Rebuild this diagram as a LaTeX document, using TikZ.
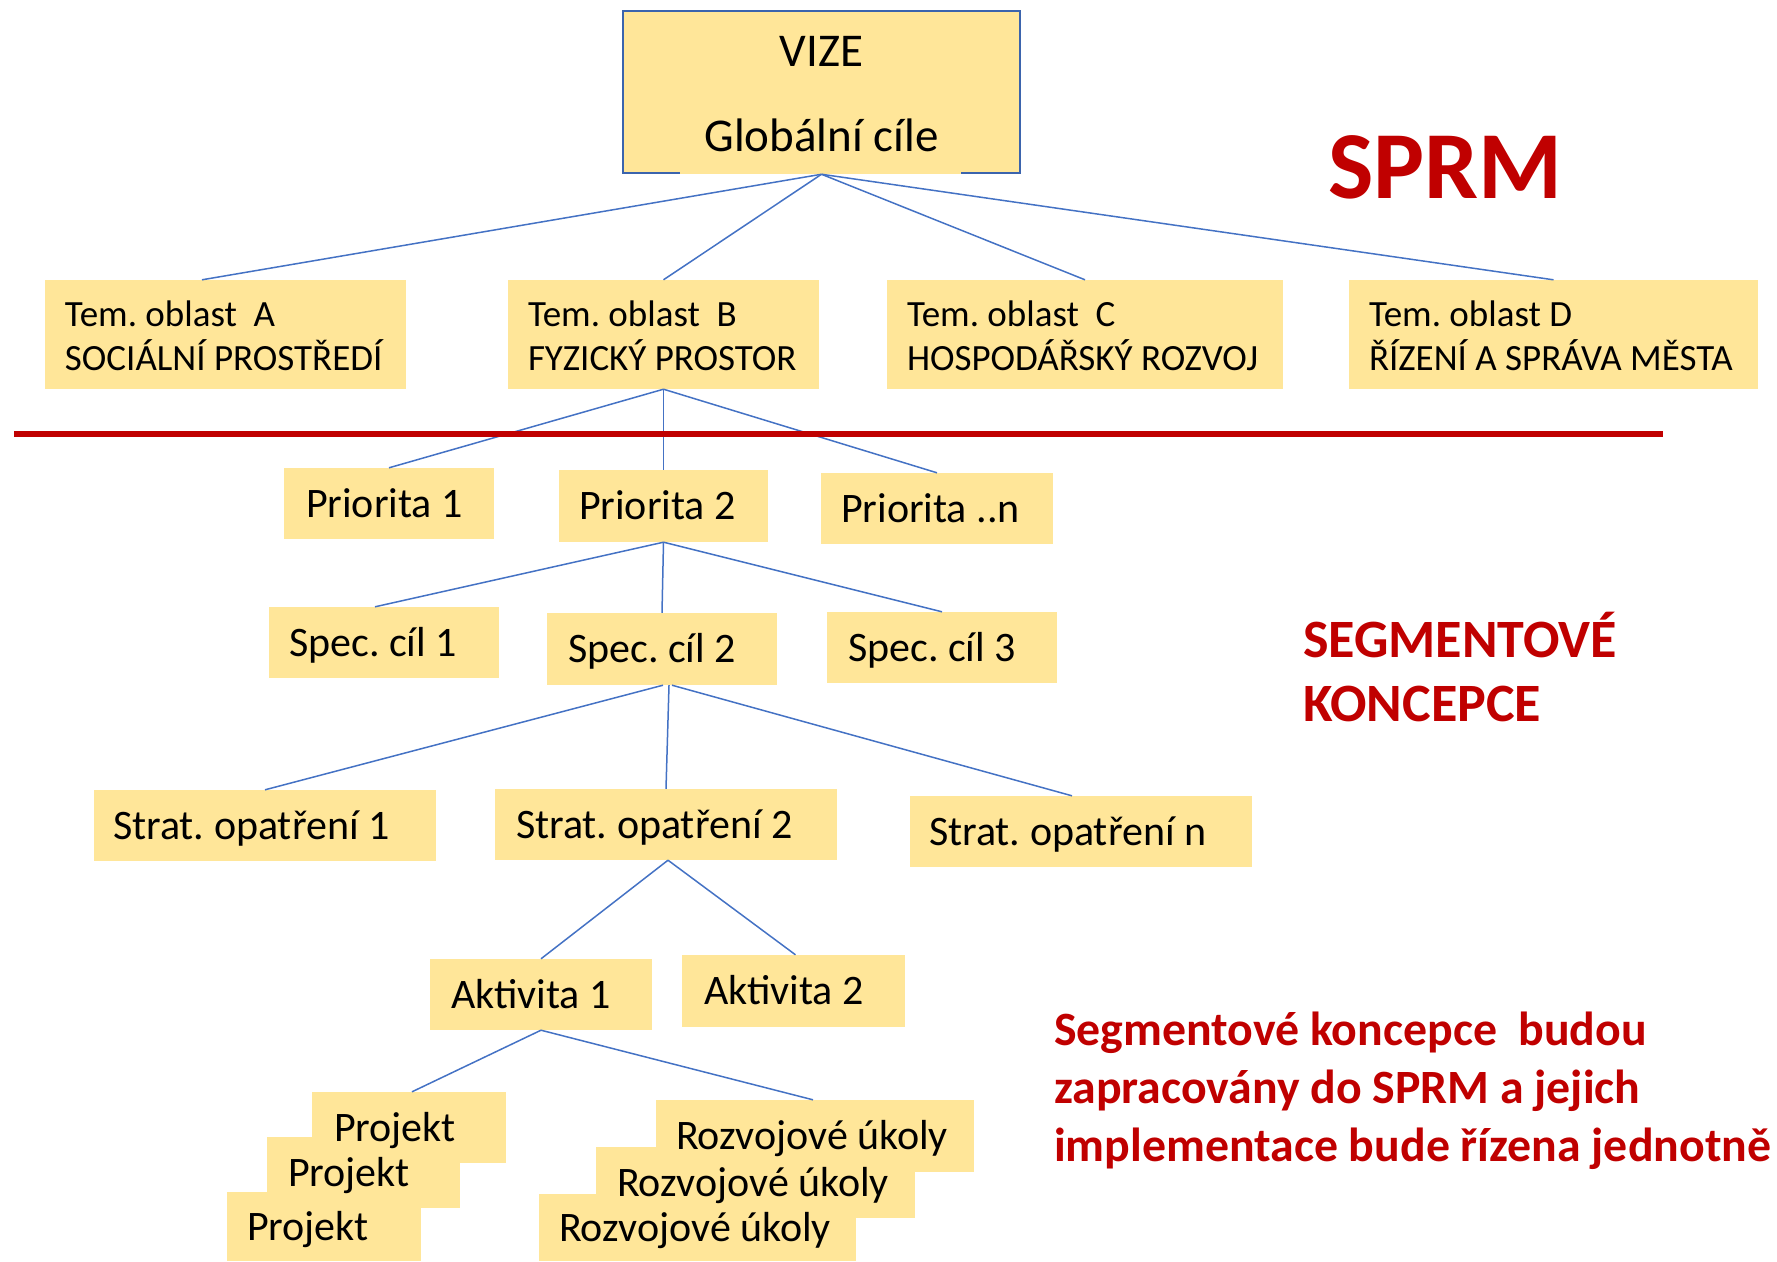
\documentclass[tikz,border=0pt]{standalone}
\usepackage{fontspec}
\setmainfont{Carlito}
\usetikzlibrary{backgrounds}
\definecolor{boxfill}{HTML}{FFE699}
\definecolor{conncol}{HTML}{4472C4}
\definecolor{darkred}{HTML}{C00000}
\definecolor{vizeborder}{HTML}{3B64AD}
\newcommand\boxtxt[3]{\makebox[#1][l]{\hspace*{#2}#3}}
\newcommand\twotxt[4]{\parbox[t]{#1}{\hspace*{#2}#3\\\hspace*{#2}#4}}
\tikzset{
  box/.style={fill=boxfill, draw=none, inner sep=0pt, anchor=center},
  stk/.style={fill=none, draw=none, inner sep=0pt, anchor=center},
  one/.style={font=\fontsize{42}{50}\selectfont, text height=32.8pt, text depth=5.7pt},
  two/.style={font=\fontsize{37}{44}\selectfont, text height=27.5pt, text depth=43.7pt},
  conn/.style={draw=conncol, line width=1.5pt},
  redline/.style={draw=darkred, line width=6pt},
  redtxt/.style={text=darkred, inner sep=0pt, align=left}
}
\begin{document}
\frenchspacing
\begin{tikzpicture}[x=1pt,y=-1pt]
\useasboundingbox (0,0) rectangle (1777,1261);
% top box
\node[box, draw=vizeborder, line width=2.5pt, minimum width=397pt, minimum height=162pt,
  font=\fontsize{47}{85}\selectfont, text height=35pt, text depth=87pt] (vize) at (821.5,92)
  {\parbox[t]{397pt}{\centering VIZE\\Globální cíle}};
\fill[boxfill] (680,171.5) rectangle (961,174.3);
% thematic areas
\node[box, two, minimum height=109pt] (temA) at (225.5,334.5) {\twotxt{361pt}{20pt}{Tem. oblast~~A}{SOCIÁLNÍ PROSTŘEDÍ}};
\node[box, two, minimum height=109pt] (temB) at (663.5,334.5) {\twotxt{311pt}{20pt}{Tem. oblast~~B}{FYZICKÝ PROSTOR}};
\node[box, two, minimum height=109pt] (temC) at (1085,334.5) {\twotxt{396pt}{20pt}{Tem. oblast~~C}{HOSPODÁŘSKÝ ROZVOJ}};
\node[box, two, minimum height=109pt] (temD) at (1553.5,334.5) {\twotxt{409pt}{20pt}{Tem. oblast D}{ŘÍZENÍ A SPRÁVA MĚSTA}};
% priorities
\node[box, one, minimum height=71pt] (pri1) at (389,503.5) {\boxtxt{210pt}{22pt}{Priorita 1}};
\node[box, one, minimum height=72pt] (pri2) at (663.5,506) {\boxtxt{209pt}{20pt}{Priorita 2}};
\node[box, one, minimum height=71pt] (prin) at (937,508.5) {\boxtxt{232pt}{20pt}{Priorita ..n}};
% specific goals
\node[box, one, minimum height=71pt] (sc1) at (384,642.5) {\boxtxt{230pt}{20pt}{Spec. cíl 1}};
\node[box, one, minimum height=72pt] (sc2) at (662,649) {\boxtxt{230pt}{21pt}{Spec. cíl 2}};
\node[box, one, minimum height=71pt] (sc3) at (942,647.5) {\boxtxt{230pt}{21pt}{Spec. cíl 3}};
% strategic measures
\node[box, one, minimum height=71pt] (so1) at (265,825.5) {\boxtxt{342pt}{19pt}{Strat. opatření 1}};
\node[box, one, minimum height=71pt] (so2) at (666,824.5) {\boxtxt{342pt}{21pt}{Strat. opatření 2}};
\node[box, one, minimum height=71pt] (son) at (1081,831.5) {\boxtxt{342pt}{19pt}{Strat. opatření n}};
% activities
\node[box, one, minimum height=71pt] (ak1) at (541,994.5) {\boxtxt{222pt}{21pt}{Aktivita 1}};
\node[box, one, minimum height=72pt] (ak2) at (793.5,991) {\boxtxt{223pt}{22pt}{Aktivita 2}};
% projects (stacked: fills go to the background layer, texts stay on top)
\node[stk, one, minimum height=71pt] (pj1) at (409,1127.5) {\boxtxt{194pt}{22pt}{Projekt}};
\node[stk, one, minimum height=71pt] (pj2) at (363.5,1172.5) {\boxtxt{193pt}{21pt}{Projekt}};
\node[stk, one, minimum height=69pt] (pj3) at (324,1226.5) {\boxtxt{194pt}{20pt}{Projekt}};
% development tasks
\node[stk, one, minimum height=72pt] (ru1) at (815,1136) {\boxtxt{318pt}{20pt}{Rozvojové úkoly}};
\node[stk, one, minimum height=71pt] (ru2) at (755.5,1182.5) {\boxtxt{319pt}{21pt}{Rozvojové úkoly}};
\node[stk, one, minimum height=67pt] (ru3) at (697.5,1227.5) {\boxtxt{317pt}{20pt}{Rozvojové úkoly}};
\begin{pgfonlayer}{background}
\fill[boxfill] (pj1.north west) rectangle (pj1.south east);
\fill[boxfill] (pj2.north west) rectangle (pj2.south east);
\fill[boxfill] (pj3.north west) rectangle (pj3.south east);
\fill[boxfill] (ru1.north west) rectangle (ru1.south east);
\fill[boxfill] (ru2.north west) rectangle (ru2.south east);
\fill[boxfill] (ru3.north west) rectangle (ru3.south east);
\end{pgfonlayer}
% connectors
\draw[conn] (vize.south) -- ([xshift=-23.5pt]temA.north);
\draw[conn] (vize.south) -- (temB.north);
\draw[conn] (vize.south) -- (temC.north);
\draw[conn] (vize.south) -- (temD.north);
\draw[conn] (temB.south) -- (pri1.north);
\draw[conn] (temB.south) -- (pri2.north);
\draw[conn] (temB.south) -- (prin.north);
\draw[conn] (pri2.south) -- ([xshift=-9pt]sc1.north);
\draw[conn] (pri2.south) -- (sc2.north);
\draw[conn] (pri2.south) -- (sc3.north);
\draw[conn] ([xshift=1pt]sc2.south) -- (so1.north);
\draw[conn] ([xshift=7pt]sc2.south) -- (so2.north);
\draw[conn] ([xshift=10pt]sc2.south) -- ([xshift=-9pt]son.north);
\draw[conn] ([xshift=2pt]so2.south) -- (ak1.north);
\draw[conn] ([xshift=2pt]so2.south) -- ([xshift=2pt]ak2.north);
\draw[conn] (ak1.south) -- ([xshift=3pt]pj1.north);
\draw[conn] (ak1.south) -- ([xshift=-2pt]ru1.north);
% red separator
\coordinate (rl1) at (14,434);
\coordinate (rl2) at (1663,434);
\draw[redline] (rl1) -- (rl2);
% red texts
\node[redtxt, anchor=base west, font=\bfseries\fontsize{96}{100}\selectfont] (sprm) at (1328,198) {SPRM};
\node[redtxt, anchor=base west, font=\bfseries\fontsize{54}{64}\selectfont] (seg) at (1303,721) {SEGMENTOVÉ\\KONCEPCE};
\node[redtxt, anchor=base west, font=\bfseries\fontsize{47.8}{58}\selectfont] (note) at (1054,1161) {Segmentové koncepce~~budou\\zapracovány do SPRM a jejich\\implementace bude řízena jednotně};
\end{tikzpicture}
\end{document}
